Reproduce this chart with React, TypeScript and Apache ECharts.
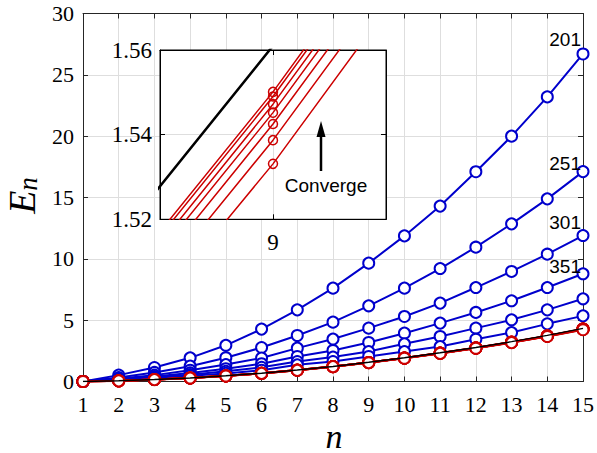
import React, { useEffect, useRef } from 'react';
import * as echarts from 'echarts';

// ---- data ----
const nValues = [1, 2, 3, 4, 5, 6, 7, 8, 9, 10, 11, 12, 13, 14, 15];

const blue201 = [0, 0.52, 1.14, 1.93, 2.95, 4.27, 5.84, 7.61, 9.65, 11.87, 14.3, 17.1, 20.0, 23.2, 26.7];
const blue251 = [0, 0.32, 0.74, 1.25, 1.94, 2.77, 3.75, 4.84, 6.17, 7.61, 9.21, 10.95, 12.85, 14.89, 17.11];
const blue301 = [0, 0.24, 0.52, 0.92, 1.38, 1.91, 2.72, 3.46, 4.35, 5.3, 6.39, 7.66, 8.97, 10.38, 11.9];
const blue351 = [0, 0.18, 0.4, 0.7, 1.04, 1.45, 2.04, 2.53, 3.18, 3.94, 4.76, 5.63, 6.58, 7.66, 8.78];
const blue401 = [0, 0.15, 0.34, 0.56, 0.83, 1.16, 1.63, 1.99, 2.44, 3.07, 3.67, 4.35, 5.03, 5.84, 6.74];
const blue451 = [0, 0.12, 0.28, 0.47, 0.66, 0.92, 1.36, 1.63, 2.04, 2.44, 2.85, 3.45, 3.99, 4.7, 5.35];

const red1 = [0, 0.06, 0.16, 0.29, 0.46, 0.67, 0.93, 1.22, 1.5501, 1.917, 2.32, 2.75, 3.21, 3.72, 4.29];
const red2 = [0, 0.06, 0.16, 0.29, 0.46, 0.67, 0.93, 1.219, 1.549, 1.915, 2.32, 2.74, 3.21, 3.72, 4.28];
const red3 = [0, 0.06, 0.16, 0.29, 0.46, 0.67, 0.93, 1.217, 1.5472, 1.913, 2.31, 2.74, 3.2, 3.71, 4.27];
const red4 = [0, 0.06, 0.16, 0.29, 0.46, 0.67, 0.92, 1.216, 1.5452, 1.91, 2.31, 2.73, 3.2, 3.7, 4.26];
const red5 = [0, 0.06, 0.16, 0.29, 0.46, 0.66, 0.92, 1.213, 1.5425, 1.906, 2.3, 2.73, 3.19, 3.69, 4.25];
const red6 = [0, 0.06, 0.16, 0.28, 0.45, 0.66, 0.92, 1.211, 1.5387, 1.902, 2.3, 2.72, 3.18, 3.68, 4.24];
const red7 = [0, 0.05, 0.15, 0.28, 0.45, 0.66, 0.91, 1.209, 1.5331, 1.897, 2.29, 2.71, 3.17, 3.67, 4.22];

const exact = [0, 0.06, 0.16, 0.29, 0.47, 0.68, 0.94, 1.229, 1.561, 1.93, 2.34, 2.78, 3.25, 3.76, 4.33];

const blueSeries = [blue201, blue251, blue301, blue351, blue401, blue451];
const redSeries = [red1, red2, red3, red4, red5, red6, red7];

const curveLabels = ['201', '251', '301', '351'];
const curveLabelY = [39, 163, 222, 266];

const BLUE = '#0000cc';
const RED = '#cc0000';
const AXIS = '#262626';
const GRIDC = '#dedede';
const SERIF = '"Liberation Serif", "DejaVu Serif", serif';
const SANS = '"Liberation Sans", Arial, sans-serif';

const toPairs = (arr: number[]) => nValues.map((v, i) => [v, arr[i]]);

function buildOption() {
  const axisLine = { show: true, onZero: false, lineStyle: { color: AXIS, width: 1 } };
  const tick = { show: true, inside: true, length: 5, lineStyle: { color: AXIS, width: 1 } };
  const xAxes: any[] = [
    {
      type: 'value', gridIndex: 0, min: 1, max: 15, interval: 1, position: 'bottom',
      axisLine, axisTick: tick,
      axisLabel: { margin: 12, fontFamily: SERIF, fontSize: 22, color: '#000' },
      splitLine: { show: true, lineStyle: { color: GRIDC, width: 1 } },
    },
    {
      type: 'value', gridIndex: 0, min: 1, max: 15, interval: 1, position: 'top',
      axisLine, axisTick: tick, axisLabel: { show: false }, splitLine: { show: false },
    },
    {
      type: 'value', gridIndex: 1, min: 8.9, max: 9.1, interval: 0.1, position: 'bottom', z: 5,
      axisLine: { show: true, onZero: false, lineStyle: { color: '#000', width: 1 } },
      axisTick: { show: true, inside: true, length: 5, lineStyle: { color: '#000' } },
      axisLabel: {
        margin: 12, fontFamily: SERIF, fontSize: 23, color: '#000',
        formatter: (v: number) => (Math.abs(v - 9) < 1e-6 ? '9' : ''),
      },
      splitLine: { show: true, lineStyle: { color: GRIDC, width: 1 } },
    },
    {
      type: 'value', gridIndex: 1, min: 8.9, max: 9.1, interval: 0.1, position: 'top', z: 5,
      axisLine: { show: true, onZero: false, lineStyle: { color: '#000', width: 1 } },
      axisTick: { show: true, inside: true, length: 5, lineStyle: { color: '#000' } },
      axisLabel: { show: false }, splitLine: { show: false },
    },
  ];
  const yAxes: any[] = [
    {
      type: 'value', gridIndex: 0, min: 0, max: 30, interval: 5, position: 'left',
      axisLine, axisTick: tick,
      axisLabel: { margin: 9, fontFamily: SERIF, fontSize: 22, color: '#000' },
      splitLine: { show: true, lineStyle: { color: GRIDC, width: 1 } },
      name: '{e|E}{s|n}',
      nameLocation: 'middle',
      nameRotate: 90,
      nameGap: 38,
      nameTextStyle: {
        padding: [0, 0, 0, 4],
        rich: {
          e: { fontFamily: SERIF, fontStyle: 'italic', fontSize: 38, color: '#000' },
          s: { fontFamily: SERIF, fontStyle: 'italic', fontSize: 27, color: '#000', verticalAlign: 'bottom' },
        },
      },
    },
    {
      type: 'value', gridIndex: 0, min: 0, max: 30, interval: 5, position: 'right',
      axisLine, axisTick: tick, axisLabel: { show: false }, splitLine: { show: false },
    },
    {
      type: 'value', gridIndex: 1, min: 1.52, max: 1.56, interval: 0.02, position: 'left', z: 5,
      axisLine: { show: true, onZero: false, lineStyle: { color: '#000', width: 1 } },
      axisTick: { show: true, inside: true, length: 5, lineStyle: { color: '#000' } },
      axisLabel: {
        margin: 8, fontFamily: SERIF, fontSize: 23, color: '#000',
        formatter: (v: number) => v.toFixed(2),
      },
      splitLine: { show: true, lineStyle: { color: GRIDC, width: 1 } },
    },
    {
      type: 'value', gridIndex: 1, min: 1.52, max: 1.56, interval: 0.02, position: 'right', z: 5,
      axisLine: { show: true, onZero: false, lineStyle: { color: '#000', width: 1 } },
      axisTick: { show: true, inside: true, length: 5, lineStyle: { color: '#000' } },
      axisLabel: { show: false }, splitLine: { show: false },
    },
  ];

  const series: any[] = [];
  blueSeries.forEach((arr) => {
    series.push({
      type: 'line', xAxisIndex: 0, yAxisIndex: 0, data: toPairs(arr),
      lineStyle: { color: BLUE, width: 2 }, symbol: 'circle', symbolSize: 11,
      itemStyle: { color: '#fff', borderColor: BLUE, borderWidth: 2 }, z: 2,
    });
  });
  redSeries.forEach((arr) => {
    series.push({
      type: 'line', xAxisIndex: 0, yAxisIndex: 0, data: toPairs(arr),
      lineStyle: { color: RED, width: 2 }, symbol: 'circle', symbolSize: 11,
      itemStyle: { color: '#fff', borderColor: RED, borderWidth: 2 }, z: 3,
    });
  });
  series.push({
    type: 'line', xAxisIndex: 0, yAxisIndex: 0, data: toPairs(exact),
    lineStyle: { color: '#000', width: 1.5 }, symbol: 'none', z: 4,
  });
  // inset
  redSeries.forEach((arr) => {
    series.push({
      type: 'line', xAxisIndex: 2, yAxisIndex: 2, data: toPairs(arr), clip: true,
      lineStyle: { color: RED, width: 1.5 }, symbol: 'circle', symbolSize: 9,
      itemStyle: { color: 'rgba(255,255,255,0)', borderColor: RED, borderWidth: 1.5 }, z: 6,
    });
  });
  series.push({
    type: 'line', xAxisIndex: 2, yAxisIndex: 2, data: toPairs(exact), clip: true,
    lineStyle: { color: '#000', width: 2.5 }, symbol: 'none', z: 6,
  });

  const graphic: any[] = [];
  curveLabels.forEach((t, i) => {
    graphic.push({
      type: 'text', x: 581, y: curveLabelY[i], z: 10,
      style: { text: t, fontFamily: SANS, fontSize: 19, fill: '#000', textAlign: 'right', textVerticalAlign: 'middle' },
    });
  });
  graphic.push({
    type: 'text', x: 326, y: 185, z: 10,
    style: { text: 'Converge', fontFamily: SANS, fontSize: 19, fill: '#000', textAlign: 'center', textVerticalAlign: 'middle' },
  });
  graphic.push({
    type: 'line', z: 10, shape: { x1: 321, y1: 171, x2: 321, y2: 134 },
    style: { stroke: '#000', lineWidth: 2.5 },
  });
  graphic.push({
    type: 'polygon', z: 10, shape: { points: [[321, 121], [316.5, 137], [325.5, 137]] },
    style: { fill: '#000' },
  });
  graphic.push({
    type: 'text', x: 334, y: 436, z: 10,
    style: { text: 'n', fontFamily: SERIF, fontStyle: 'italic', fontSize: 34, fill: '#000', textAlign: 'center', textVerticalAlign: 'middle' },
  });

  return {
    animation: false,
    backgroundColor: '#fff',
    grid: [
      { left: 83, top: 13.5, width: 500, height: 368, containLabel: false, outerBoundsMode: 'none' },
      {
        left: 160, top: 50, width: 226, height: 169.3, show: true, z: 3, outerBoundsMode: 'none',
        backgroundColor: '#fff', borderColor: '#000', borderWidth: 1,
      },
    ],
    xAxis: xAxes,
    yAxis: yAxes,
    series,
    graphic,
  };
}

export default function App() {
  const ref = useRef<HTMLDivElement>(null);
  useEffect(() => {
    const chart = echarts.init(ref.current as HTMLDivElement, null, { renderer: 'svg' });
    chart.setOption(buildOption() as any);
    return () => chart.dispose();
  }, []);
  return (
    <div
      ref={ref}
      style={{ position: 'fixed', left: 0, top: 0, width: 597, height: 453, background: '#fff' }}
    />
  );
}
